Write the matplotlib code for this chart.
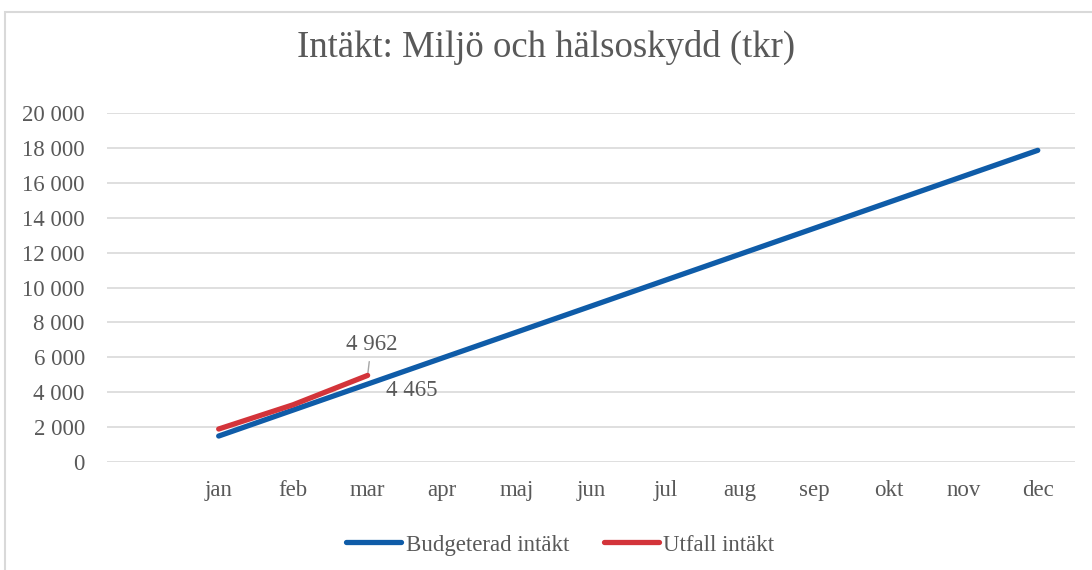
import numpy as np
import matplotlib.pyplot as plt
from matplotlib.patches import Rectangle

plt.rcParams['font.family'] = ['Liberation Serif', 'DejaVu Serif']

months = ['', 'jan', 'feb', 'mar', 'apr', 'maj', 'jun', 'jul', 'aug', 'sep', 'okt', 'nov', 'dec']
budget = [None, 1488, 2977, 4465, 5954, 7442, 8930, 10419, 11907, 13396, 14884, 16372, 17861]
utfall = [None, 1890, 3280, 4962]

grey = '#595959'
blue = '#0f5ca8'
red = '#d3343a'
fs = 16.5

def fmt(v):
    return '{:,}'.format(int(v)).replace(',', ' ')

fig = plt.figure(figsize=(10.92, 5.70), dpi=100)
fig.patches.append(Rectangle((5/1092, -0.1), 1.2, 1 - 12/570 + 0.1, transform=fig.transFigure,
                             fill=False, edgecolor='#d9d9d9', linewidth=1.5))
ax = fig.add_axes([107/1092, 1 - 462/570, (1075 - 107)/1092, (462 - 113)/570])

x = np.arange(len(months)) + 0.5
xb = [xi for xi, v in zip(x, budget) if v is not None]
yb = [v for v in budget if v is not None]
xu = [xi for xi, v in zip(x, utfall) if v is not None]
yu = [v for v in utfall if v is not None]

ax.plot(xb, yb, color=blue, lw=3.8, solid_capstyle='round', label='Budgeterad intäkt', zorder=3)
ax.plot(xu, yu, color=red, lw=3.8, solid_capstyle='round', label='Utfall intäkt', zorder=4)

ax.set_xlim(0, len(months))
ax.set_ylim(0, 20000)
ax.set_xticks(x)
ax.set_xticklabels(months)
yt = np.arange(0, 20001, 2000)
ax.set_yticks(yt)
ax.set_yticklabels([fmt(v) for v in yt])
ax.tick_params(length=0, labelsize=fs, colors=grey)
ax.tick_params(axis='x', pad=13)
ax.tick_params(axis='y', pad=16)
ax.grid(axis='y', color='#d9d9d9', lw=1.2)
ax.set_axisbelow(True)
for s in ax.spines.values():
    s.set_visible(False)

# data labels for mars
ax.annotate(fmt(utfall[3]), xy=(xu[-1], yu[-1]), xytext=(xu[-1] + 0.05, 6750),
            textcoords='data', ha='center', va='center', fontsize=fs, color=grey,
            arrowprops=dict(arrowstyle='-', color='#a6a6a6', lw=1, shrinkA=3, shrinkB=1))
ax.text(xb[2] + 0.25, yb[2] + 250, fmt(budget[3]), ha='left', va='top', fontsize=fs, color=grey)

fig.text(0.5, 1 - 47/570, 'Intäkt: Miljö och hälsoskydd (tkr)', ha='center', va='center',
         fontsize=26.5, color=grey)

leg = fig.legend(loc='center', bbox_to_anchor=(0.513, 1 - 545/570), ncol=2, frameon=False,
                 fontsize=fs, handlelength=2.4, handletextpad=0.2, columnspacing=1.5)
for t in leg.get_texts():
    t.set_color(grey)

fig.savefig('out.png', dpi=100)
